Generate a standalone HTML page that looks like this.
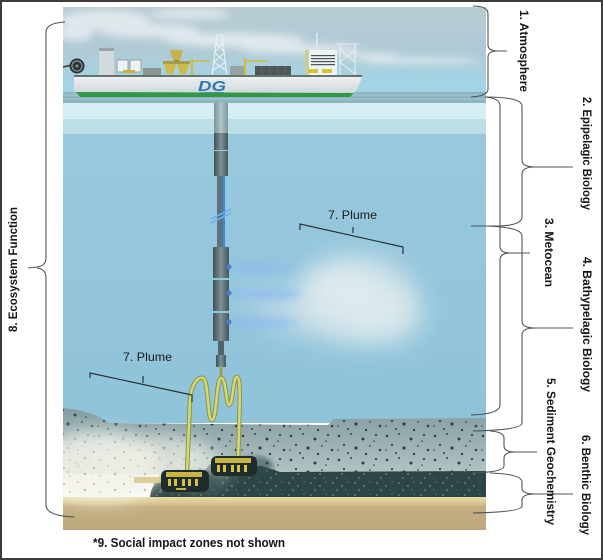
<!DOCTYPE html>
<html><head><meta charset="utf-8"><style>
html,body{margin:0;padding:0;background:#fff;}
svg{display:block;}
.lb{font-family:"Liberation Sans",sans-serif;font-weight:bold;fill:#151515;}
.pl{font-family:"Liberation Sans",sans-serif;font-weight:normal;fill:#1a1a1a;}
</style></head><body>
<svg width="603" height="560" viewBox="0 0 603 560" xmlns="http://www.w3.org/2000/svg">
<defs>
 <linearGradient id="sky" x1="0" y1="0" x2="0" y2="1">
  <stop offset="0" stop-color="#b8cbd4"/>
  <stop offset="0.5" stop-color="#b0cad5"/>
  <stop offset="0.8" stop-color="#a5d2e2"/>
  <stop offset="1" stop-color="#a0d5e7"/>
 </linearGradient>
 <linearGradient id="water" x1="0" y1="0" x2="0" y2="1">
  <stop offset="0" stop-color="#99c9dd"/>
  <stop offset="1" stop-color="#8fc3da"/>
 </linearGradient>
 <linearGradient id="sed" x1="0" y1="0" x2="0" y2="1">
  <stop offset="0" stop-color="#839ca1"/>
  <stop offset="1" stop-color="#b3c3c3"/>
 </linearGradient>
 <linearGradient id="hull" x1="0" y1="0" x2="0" y2="1">
  <stop offset="0" stop-color="#eef2f3"/>
  <stop offset="1" stop-color="#c9d2d6"/>
 </linearGradient>
 <linearGradient id="pipe" x1="0" y1="0" x2="1" y2="0">
  <stop offset="0" stop-color="#3d5156"/>
  <stop offset="0.5" stop-color="#7d9196"/>
  <stop offset="1" stop-color="#43565b"/>
 </linearGradient>
 <linearGradient id="pipeL" x1="0" y1="0" x2="1" y2="0">
  <stop offset="0" stop-color="#7a9499"/>
  <stop offset="0.5" stop-color="#b2c6c9"/>
  <stop offset="1" stop-color="#7d979c"/>
 </linearGradient>
 <linearGradient id="tan" x1="0" y1="0" x2="0" y2="1">
  <stop offset="0" stop-color="#e8dba4"/>
  <stop offset="0.2" stop-color="#d6c48f"/>
  <stop offset="0.3" stop-color="#c6b082"/>
  <stop offset="1" stop-color="#bea87b"/>
 </linearGradient>
 <filter id="b2" filterUnits="userSpaceOnUse" x="0" y="0" width="603" height="560"><feGaussianBlur stdDeviation="2"/></filter>
 <filter id="b4" filterUnits="userSpaceOnUse" x="0" y="0" width="603" height="560"><feGaussianBlur stdDeviation="4"/></filter>
 <filter id="b8" filterUnits="userSpaceOnUse" x="0" y="0" width="603" height="560"><feGaussianBlur stdDeviation="8"/></filter>
 <filter id="b12" filterUnits="userSpaceOnUse" x="0" y="0" width="603" height="560"><feGaussianBlur stdDeviation="12"/></filter>
 <clipPath id="pic"><rect x="63" y="7" width="423" height="523"/></clipPath>
 <pattern id="nod" width="48" height="24" patternUnits="userSpaceOnUse">
  <circle cx="3" cy="4" r="1.3" fill="#2c4547"/>
  <circle cx="15" cy="2" r="1" fill="#2c4547"/>
  <circle cx="27" cy="7" r="1.5" fill="#2c4547"/>
  <circle cx="40" cy="3" r="1.1" fill="#2c4547"/>
  <circle cx="8" cy="13" r="1.1" fill="#2c4547"/>
  <circle cx="20" cy="16" r="1.6" fill="#2c4547"/>
  <circle cx="34" cy="14" r="0.9" fill="#2c4547"/>
  <circle cx="44" cy="18" r="1.3" fill="#2c4547"/>
  <circle cx="12" cy="21" r="1" fill="#2c4547"/>
  <circle cx="30" cy="22" r="1.2" fill="#2c4547"/>
  <circle cx="2" cy="18" r="0.8" fill="#2c4547"/>
  <circle cx="38" cy="9" r="0.8" fill="#2c4547"/>
 </pattern>
 <pattern id="spk" width="22" height="12" patternUnits="userSpaceOnUse">
  <circle cx="3" cy="3" r="0.8" fill="#7e9c98"/>
  <circle cx="12" cy="6" r="0.7" fill="#9ab4ae"/>
  <circle cx="18" cy="2" r="0.6" fill="#6f8f8c"/>
  <circle cx="7" cy="10" r="0.7" fill="#8aa6a2"/>
  <circle cx="16" cy="10" r="0.6" fill="#5f807d"/>
 </pattern>
 <pattern id="ydot" width="30" height="16" patternUnits="userSpaceOnUse">
  <circle cx="4" cy="4" r="1.1" fill="#c7b87a"/>
  <circle cx="18" cy="2" r="0.9" fill="#cbbd82"/>
  <circle cx="25" cy="10" r="1.2" fill="#c2b274"/>
  <circle cx="10" cy="12" r="0.9" fill="#c9ba7c"/>
 </pattern>
</defs>

<rect x="1" y="1" width="601" height="558" fill="#fff" stroke="#3c3c3c" stroke-width="2"/>

<g clip-path="url(#pic)">
 <!-- sky -->
 <rect x="63" y="7" width="423" height="88" fill="url(#sky)"/>
 <g filter="url(#b4)" fill="#eef3f5" opacity="0.75">
  <ellipse cx="105" cy="20" rx="45" ry="10"/>
  <ellipse cx="75" cy="33" rx="18" ry="8"/>
  <ellipse cx="150" cy="31" rx="50" ry="7"/>
  <ellipse cx="235" cy="40" rx="70" ry="7"/>
  <ellipse cx="300" cy="49" rx="60" ry="5"/>
  <ellipse cx="190" cy="14" rx="40" ry="5"/>
  <ellipse cx="420" cy="61" rx="60" ry="3"/>
  <ellipse cx="370" cy="56" rx="30" ry="3"/>
 </g>
 <!-- sea surface -->
 <rect x="63" y="92" width="423" height="11" fill="#8db5c1"/>
 <g stroke="#b9d6de" stroke-width="1" opacity="0.6">
  <line x1="63" y1="95" x2="486" y2="95"/>
  <line x1="63" y1="99" x2="486" y2="99"/>
 </g>
 <!-- water -->
 <rect x="63" y="103" width="423" height="320" fill="url(#water)"/>
 <rect x="63" y="103" width="423" height="16" fill="#d4eef3"/>
 <rect x="63" y="119" width="423" height="15" fill="#bbdfe5"/>

 <!-- ship -->
 <line x1="63" y1="67" x2="72" y2="65" stroke="#333" stroke-width="1.5"/>
 <circle cx="77" cy="66" r="7.5" fill="#2b3234"/>
 <circle cx="77" cy="66" r="5" fill="none" stroke="#8a9496" stroke-width="1.2"/>
 <circle cx="77" cy="66" r="1.5" fill="#8a9496"/>
 <rect x="99" y="48" width="15" height="29" fill="#d3dadc"/>
 <rect x="99" y="48" width="15" height="3" fill="#9aa4a6"/>
 <rect x="117" y="60" width="11" height="12" fill="#eef1f1" stroke="#8b9596" stroke-width="0.8"/>
 <rect x="130" y="60" width="11" height="12" fill="#eef1f1" stroke="#8b9596" stroke-width="0.8"/>
 <rect x="123" y="70" width="12" height="3" fill="#c8b43c"/>
 <rect x="143" y="68" width="18" height="8" fill="#8c9596"/>
 <path d="M170,50 L183,50 L180,60 L173,60 Z" fill="#c8b24a"/>
 <rect x="174" y="60" width="5" height="3" fill="#8b7f3a"/>
 <rect x="163" y="61" width="27" height="3" fill="#a89b4a"/>
 <path d="M164,64 L176,64 L173,74 L167,74 Z" fill="#cdb94c"/>
 <path d="M177,64 L189,64 L186,74 L180,74 Z" fill="#cdb94c"/>
 <line x1="192" y1="59" x2="192" y2="76" stroke="#d0bc3a" stroke-width="2"/>
 <line x1="192" y1="61" x2="210" y2="61" stroke="#d0bc3a" stroke-width="1.5"/>
 <g stroke="#eaf0f1" stroke-width="1.1" fill="none">
  <path d="M212,77 L217,35 L222,35 L227,77"/>
  <path d="M213,70 L226,62 M214,62 L225,52 M215,52 L223,43 M226,70 L213,62 M225,62 L214,52 M224,52 L216,43"/>
 </g>
 <rect x="230" y="66" width="14" height="10" fill="#9aa3a3"/>
 <line x1="245" y1="58" x2="245" y2="76" stroke="#d0bc3a" stroke-width="2"/>
 <line x1="245" y1="61" x2="268" y2="61" stroke="#d0bc3a" stroke-width="1.5"/>
 <rect x="255" y="66" width="36" height="10" fill="#4f5757"/>
 <g stroke="#6c7676" stroke-width="0.6"><line x1="262" y1="66" x2="262" y2="76"/><line x1="270" y1="66" x2="270" y2="76"/><line x1="278" y1="66" x2="278" y2="76"/><line x1="285" y1="66" x2="285" y2="76"/></g>
 <line x1="317" y1="33" x2="317" y2="51" stroke="#e6ecee" stroke-width="1.5"/>
 <rect x="305" y="50" width="32" height="27" fill="#eef2f2"/>
 <rect x="305" y="50" width="4" height="27" fill="#c9cf9a"/>
 <g fill="#4a5558">
  <rect x="311" y="55" width="24" height="1.2"/><rect x="311" y="58" width="24" height="1.2"/>
  <rect x="311" y="61" width="24" height="1.2"/><rect x="311" y="64" width="24" height="1.2"/>
 </g>
 <rect x="308" y="69" width="10" height="4" fill="#d9c23a"/>
 <rect x="322" y="69" width="10" height="4" fill="#d9c23a"/>
 <g stroke="#e8eef0" stroke-width="1.1" fill="none">
  <line x1="336" y1="44" x2="359" y2="44"/>
  <path d="M340,44 L340,76 M355,44 L355,76 M340,50 L355,62 M355,50 L340,62 M340,62 L355,74"/>
 </g>
 <path d="M74,77 L362,76 C360,85 356,92 350,97 L80,97 L74,90 Z" fill="url(#hull)"/>
 <rect x="74" y="75" width="288" height="2" fill="#66736b"/>
 <path d="M76,92 L354,93 L350,97 L80,97 Z" fill="#2f9946"/>
 <text x="198" y="91" font-family="Liberation Sans,sans-serif" font-weight="bold" font-style="italic" font-size="15" fill="#2f78b4" textLength="28" lengthAdjust="spacingAndGlyphs">DG</text>
 <rect x="200" y="92" width="24" height="1" fill="#5b8cb0"/>

 <!-- plume cloud -->
 <g filter="url(#b12)">
  <ellipse cx="355" cy="300" rx="62" ry="45" fill="#dfe9ec" opacity="0.75"/>
  <ellipse cx="340" cy="290" rx="38" ry="25" fill="#eaf0f0" opacity="0.6"/>
  <ellipse cx="385" cy="315" rx="40" ry="30" fill="#e6eeef" opacity="0.55"/>
  <ellipse cx="300" cy="318" rx="38" ry="18" fill="#d8e6ec" opacity="0.5"/>
  <ellipse cx="275" cy="300" rx="40" ry="16" fill="#c8dcea" opacity="0.45"/>
 </g>
 <g filter="url(#b4)" fill="#8cbaf0" opacity="0.7">
  <ellipse cx="262" cy="268" rx="35" ry="4"/>
  <ellipse cx="264" cy="294" rx="38" ry="5"/>
  <ellipse cx="262" cy="323" rx="36" ry="5"/>
 </g>

 <!-- riser -->
 <rect x="214" y="103" width="14" height="30" fill="url(#pipeL)"/>
 <rect x="214" y="133" width="14" height="17" fill="url(#pipe)"/>
 <rect x="214" y="151" width="14" height="25" fill="url(#pipe)"/>
 <rect x="217" y="176" width="8" height="71" fill="#5e7379"/>
 <rect x="222.5" y="176" width="2.5" height="71" fill="#3f86d6"/>
 <line x1="211" y1="219" x2="231" y2="209" stroke="#6fb0f0" stroke-width="1.6"/>
 <line x1="211" y1="223" x2="231" y2="213" stroke="#6fb0f0" stroke-width="1.6"/>
 <rect x="213" y="247" width="16" height="31" rx="1" fill="url(#pipe)"/>
 <rect x="213" y="280" width="16" height="31" rx="1" fill="url(#pipe)"/>
 <rect x="213" y="313" width="16" height="28" rx="1" fill="url(#pipe)"/>
 <circle cx="229" cy="267" r="2.5" fill="#4a7fd0"/>
 <circle cx="229" cy="293" r="2.5" fill="#4a7fd0"/>
 <circle cx="229" cy="322" r="2.5" fill="#4a7fd0"/>
 <rect x="218" y="341" width="6" height="14" fill="#4f6368"/>
 <rect x="216" y="355" width="10" height="12" fill="url(#pipe)"/>

 <!-- seafloor sediment -->
 <path d="M63,408 C80,409 96,414 110,423 L328,425 L334,419 L486,418 L486,474 L63,474 Z" fill="url(#sed)"/>
 <path d="M63,408 C80,409 96,414 110,423 L328,425 L334,419 L486,418 L486,474 L63,474 Z" fill="url(#nod)"/>
 <!-- dark nodule layer -->
 <path d="M150,498 C152,478 165,472 205,470 L210,464 L262,466 L280,472 L486,471 L486,499 L150,499 Z" fill="#2c4646"/>
 <path d="M150,498 C152,478 165,472 205,470 L210,464 L262,466 L280,472 L486,471 L486,499 L150,499 Z" fill="url(#spk)"/>
 <!-- sand -->
 <rect x="63" y="497" width="423" height="33" fill="url(#tan)"/>
 <!-- seafloor plume -->
 <g filter="url(#b8)">
  <ellipse cx="100" cy="468" rx="62" ry="34" fill="#f1f1e8" opacity="0.88"/>
  <ellipse cx="155" cy="458" rx="60" ry="22" fill="#eef0e6" opacity="0.65"/>
  <ellipse cx="200" cy="470" rx="30" ry="18" fill="#e6ebe2" opacity="0.4"/>
  <ellipse cx="95" cy="440" rx="45" ry="12" fill="#e4e9e6" opacity="0.5"/>
 </g>
 <rect x="63" y="432" width="110" height="64" fill="url(#ydot)" opacity="0.8"/>
 <rect x="134" y="477" width="30" height="6" fill="#d8cc92" opacity="0.9"/>

 <!-- hose -->
 <path d="M221,366 L221,378" stroke="#9aa24a" stroke-width="3" fill="none"/>
 <path d="M187,472 L190,400 C191,385 198,376 203,378 C209,380 207,420 212,420 C217,420 216,379 221,378 C226,377 226,405 229,405 C233,405 233,376 237,377 C241,378 240,400 238,460" stroke="#8f9640" stroke-width="4.5" fill="none"/>
 <path d="M187,472 L190,400 C191,385 198,376 203,378 C209,380 207,420 212,420 C217,420 216,379 221,378 C226,377 226,405 229,405 C233,405 233,376 237,377 C241,378 240,400 238,460" stroke="#d3d878" stroke-width="2.5" fill="none"/>

 <!-- crawlers -->
 <g filter="url(#b2)" opacity="0.55"><ellipse cx="200" cy="482" rx="20" ry="10" fill="#2d4a4e"/><ellipse cx="255" cy="466" rx="18" ry="10" fill="#2d4a4e"/></g>
 <rect x="161" y="470" width="48" height="22" rx="6" fill="#1e2d2b"/>
 <rect x="166" y="472" width="36" height="5" fill="#c9b544"/>
 <g fill="#d6c24a"><rect x="168" y="479" width="3" height="7"/><rect x="174" y="479" width="3" height="7"/><rect x="182" y="479" width="3" height="7"/><rect x="188" y="479" width="3" height="7"/><rect x="195" y="479" width="3" height="7"/></g>
 <rect x="176" y="488" width="10" height="2" fill="#c9b544"/>
 <rect x="211" y="456" width="46" height="20" rx="6" fill="#1e2d2b"/>
 <rect x="215" y="458" width="36" height="5" fill="#c9b544"/>
 <g fill="#d6c24a"><rect x="217" y="465" width="3" height="7"/><rect x="223" y="465" width="3" height="7"/><rect x="231" y="465" width="3" height="7"/><rect x="237" y="465" width="3" height="7"/><rect x="244" y="465" width="3" height="7"/></g>
</g>

<!-- plume brackets -->
<g stroke="#263238" stroke-width="1.2" fill="none">
 <path d="M300,230 L300,224 L403,247 L403,254"/>
 <path d="M353,233 L353,227"/>
 <path d="M90,378 L90,373 L192,395 L192,402"/>
 <path d="M143,383 L143,376"/>
</g>
<text class="pl" x="328" y="219" font-size="12" textLength="49" lengthAdjust="spacingAndGlyphs">7. Plume</text>
<text class="pl" x="123" y="361" font-size="12" textLength="49" lengthAdjust="spacingAndGlyphs">7. Plume</text>

<!-- right braces -->
<g stroke="#505558" stroke-width="1.1" fill="none">
 <path d="M473,6 Q488,6 488,14 L488,45 Q488,51 498,51 L507,51 M498,51 Q488,51 488,57 L488,89 Q488,96 471,97"/>
 <path d="M485,97 Q522,97 522,106 L522,160 Q522,167 535,167 L573,167 M535,167 Q522,167 522,174 L522,217 Q522,225 500,226 L471,226"/>
 <path d="M485,97 Q500,98 500,106 L500,246 Q500,253 510,253 L530,253 M510,253 Q500,253 500,260 L500,405 Q500,414 471,415"/>
 <path d="M485,226 Q522,227 522,236 L522,321 Q522,328 535,328 L573,328 M535,328 Q522,328 522,335 L522,423 Q522,430 473,431"/>
 <path d="M490,431 Q504,432 504,438 L504,446 Q504,452 515,452 L537,452 M515,452 Q504,452 504,458 L504,466 Q504,472 473,473"/>
 <path d="M490,473 Q522,474 522,482 L522,488 Q522,494 535,494 L573,494 M535,494 Q522,494 522,500 L522,506 Q522,512 473,513"/>
 <path d="M65,22 Q46,23 46,32 L46,258 Q46,266 37,267 L28,268 M37,268 Q46,269 46,278 L46,505 Q46,516 75,517"/>
</g>

<!-- labels -->
<text class="lb" font-size="12" text-anchor="middle" transform="translate(520,51) rotate(90)" textLength="82" lengthAdjust="spacingAndGlyphs">1. Atmosphere</text>
<text class="lb" font-size="12" text-anchor="middle" transform="translate(583,153.5) rotate(90)" textLength="113" lengthAdjust="spacingAndGlyphs">2. Epipelagic Biology</text>
<text class="lb" font-size="12" text-anchor="middle" transform="translate(545,252.5) rotate(90)" textLength="69" lengthAdjust="spacingAndGlyphs">3. Metocean</text>
<text class="lb" font-size="12" text-anchor="middle" transform="translate(583,324.5) rotate(90)" textLength="135" lengthAdjust="spacingAndGlyphs">4. Bathypelagic Biology</text>
<text class="lb" font-size="12" text-anchor="middle" transform="translate(547,451.5) rotate(90)" textLength="147" lengthAdjust="spacingAndGlyphs">5. Sediment Geochemistry</text>
<text class="lb" font-size="12" text-anchor="middle" transform="translate(582,485) rotate(90)" textLength="100" lengthAdjust="spacingAndGlyphs">6. Benthic Biology</text>
<text class="lb" font-size="12" text-anchor="middle" transform="translate(17,269.5) rotate(-90)" textLength="125" lengthAdjust="spacingAndGlyphs">8. Ecosystem Function</text>
<text class="lb" font-size="13" x="93" y="547" textLength="192" lengthAdjust="spacingAndGlyphs">*9. Social impact zones not shown</text>
</svg>
</body></html>
